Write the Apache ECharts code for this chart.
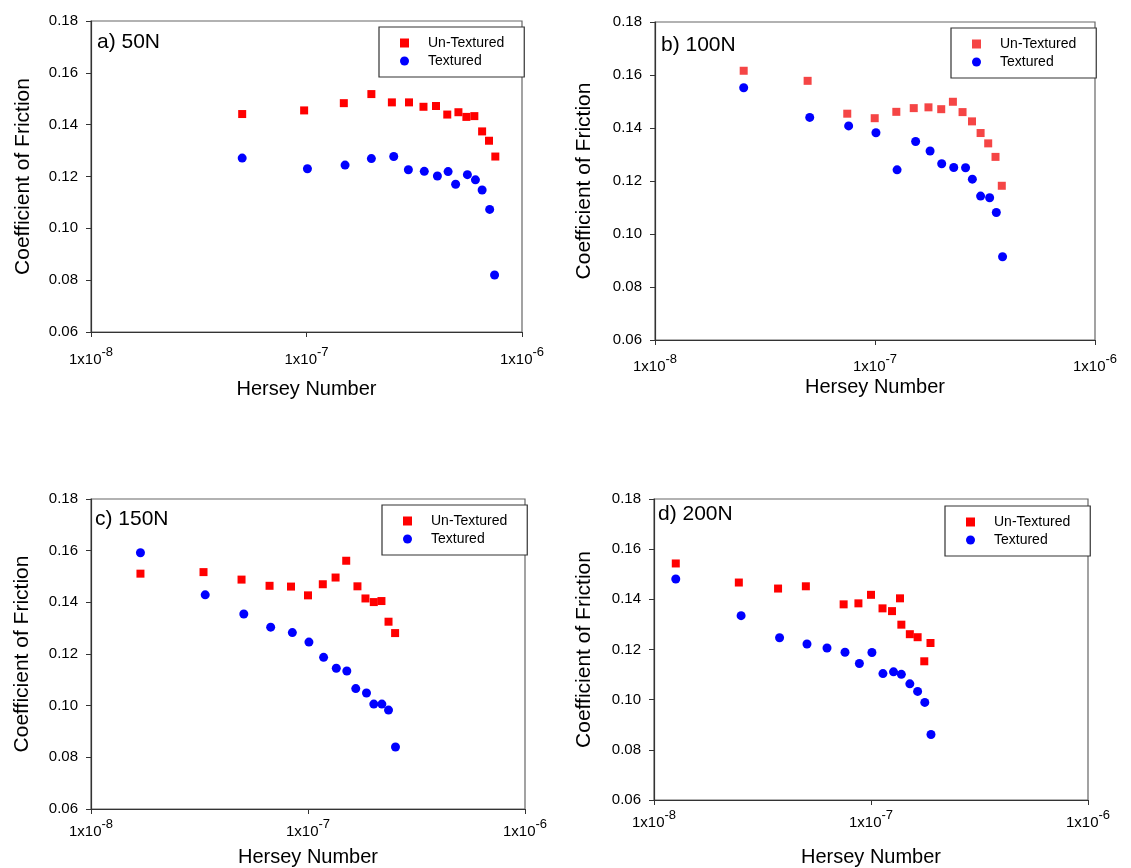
<!DOCTYPE html>
<html>
<head>
<meta charset="utf-8">
<script src="https://cdn.jsdelivr.net/npm/echarts@6/dist/echarts.min.js"></script>
<style>
html,body{margin:0;padding:0;background:#fff;}
#c{width:1131px;height:868px;}
</style>
</head>
<body>
<div id="c"></div>
<script>
// ---- data ----
const panelLabels = ['a) 50N', 'b) 100N', 'c) 150N', 'd) 200N'];
const seriesNames = ['Un-Textured', 'Textured'];
const yTicks = [0.06, 0.08, 0.10, 0.12, 0.14, 0.16, 0.18];
const xTickExps = [-8, -7, -6];

const h50U = [5.03e-8, 9.75e-8, 1.49e-7, 2.0e-7, 2.49e-7, 2.99e-7, 3.49e-7, 3.99e-7, 4.5e-7, 5.07e-7, 5.52e-7, 6.01e-7, 6.53e-7, 7.03e-7, 7.52e-7];
const f50U = [0.1441, 0.1455, 0.1483, 0.1518, 0.1486, 0.1486, 0.1469, 0.1472, 0.1439, 0.1448, 0.1430, 0.1433, 0.1374, 0.1338, 0.1277];
const h50T = [5.03e-8, 1.01e-7, 1.51e-7, 2.0e-7, 2.54e-7, 2.97e-7, 3.52e-7, 4.05e-7, 4.54e-7, 4.92e-7, 5.58e-7, 6.08e-7, 6.53e-7, 7.08e-7, 7.46e-7];
const f50T = [0.1271, 0.1230, 0.1244, 0.1269, 0.1277, 0.1226, 0.1220, 0.1202, 0.1219, 0.1170, 0.1207, 0.1187, 0.1148, 0.1073, 0.0820];

const h100U = [2.53e-8, 4.94e-8, 7.48e-8, 9.97e-8, 1.25e-7, 1.50e-7, 1.75e-7, 2.00e-7, 2.26e-7, 2.50e-7, 2.76e-7, 3.02e-7, 3.27e-7, 3.53e-7, 3.77e-7];
const f100U = [0.1616, 0.1578, 0.1454, 0.1437, 0.1461, 0.1475, 0.1478, 0.1471, 0.1499, 0.1460, 0.1425, 0.1381, 0.1342, 0.1291, 0.1182];
const h100T = [2.53e-8, 5.05e-8, 7.59e-8, 1.01e-7, 1.26e-7, 1.53e-7, 1.78e-7, 2.01e-7, 2.28e-7, 2.58e-7, 2.77e-7, 3.02e-7, 3.32e-7, 3.56e-7, 3.80e-7];
const f100T = [0.1552, 0.1440, 0.1408, 0.1382, 0.1242, 0.1349, 0.1313, 0.1265, 0.1251, 0.1250, 0.1207, 0.1143, 0.1137, 0.1081, 0.0914];

const h150U = [1.69e-8, 3.30e-8, 4.94e-8, 6.65e-8, 8.35e-8, 1.0e-7, 1.17e-7, 1.34e-7, 1.50e-7, 1.69e-7, 1.84e-7, 2.01e-7, 2.18e-7, 2.35e-7, 2.52e-7];
const f150U = [0.1511, 0.1517, 0.1488, 0.1464, 0.1461, 0.1427, 0.1470, 0.1496, 0.1561, 0.1462, 0.1415, 0.1401, 0.1405, 0.1325, 0.1281];
const h150T = [1.69e-8, 3.36e-8, 5.06e-8, 6.73e-8, 8.47e-8, 1.01e-7, 1.18e-7, 1.35e-7, 1.51e-7, 1.66e-7, 1.86e-7, 2.01e-7, 2.19e-7, 2.35e-7, 2.53e-7];
const f150T = [0.1592, 0.1429, 0.1355, 0.1304, 0.1283, 0.1246, 0.1187, 0.1145, 0.1134, 0.1066, 0.1049, 0.1006, 0.1006, 0.0983, 0.0840];

const h200U = [1.26e-8, 2.46e-8, 3.73e-8, 5.01e-8, 7.48e-8, 8.75e-8, 1.0e-7, 1.13e-7, 1.25e-7, 1.36e-7, 1.38e-7, 1.51e-7, 1.64e-7, 1.76e-7, 1.88e-7];
const f200U = [0.1543, 0.1467, 0.1443, 0.1452, 0.1380, 0.1384, 0.1418, 0.1364, 0.1353, 0.1404, 0.1299, 0.1261, 0.1249, 0.1153, 0.1226];
const h200T = [1.26e-8, 2.52e-8, 3.79e-8, 5.07e-8, 6.27e-8, 7.59e-8, 8.84e-8, 1.01e-7, 1.135e-7, 1.27e-7, 1.38e-7, 1.51e-7, 1.64e-7, 1.77e-7, 1.89e-7];
const f200T = [0.1481, 0.1335, 0.1247, 0.1222, 0.1206, 0.1189, 0.1144, 0.1188, 0.1104, 0.1111, 0.1101, 0.1063, 0.1033, 0.0989, 0.0861];

// ---- layout / style ----
const FONT = '"Liberation Sans", Arial, sans-serif';
const panels = [
  {grid:{left:91, top:21, width:431, height:311}, hx:[h50U,h50T], fy:[f50U,f50T], red:'#ff0000', labMargin:14, nameGap:47, yNameGap:57, title:{left:97, top:32}, legend:{left:379, top:27}},
  {grid:{left:655, top:22, width:440, height:318}, hx:[h100U,h100T], fy:[f100U,f100T], red:'#f54545', labMargin:13, nameGap:37, yNameGap:60, title:{left:661, top:35}, legend:{left:951, top:28}},
  {grid:{left:91, top:499, width:434, height:313}, hx:[h150U,h150T], fy:[f150U,f150T], red:'#ff0000', labMargin:9, nameGap:38, yNameGap:58, title:{left:95, top:509}, legend:{left:382, top:505}},
  {grid:{left:654, top:499, width:434, height:312}, hx:[h200U,h200T], fy:[f200U,f200T], red:'#ff0000', labMargin:9, nameGap:47, yNameGap:59, title:{left:658, top:504}, legend:{left:945, top:506}}
];

const zip = (xs, ys) => xs.map((x, i) => [x, ys[i]]);

const option = {
  animation: false,
  backgroundColor: '#fff',
  textStyle: {fontFamily: FONT, color: '#000'},
  title: panels.map((p, i) => ({
    text: panelLabels[i], left: p.title.left, top: p.title.top, padding: 0,
    textStyle: {fontFamily: FONT, fontSize: 21, fontWeight: 'normal', color: '#000'}
  })),
  legend: panels.map((p, i) => ({
    orient: 'vertical', left: p.legend.left, top: p.legend.top,
    padding: [9, 20, 9, 21], itemGap: 4, itemWidth: 9, itemHeight: 9,
    borderColor: '#333', borderWidth: 1.2, backgroundColor: '#fff',
    selectedMode: false,
    textStyle: {fontFamily: FONT, fontSize: 14, color: '#000', padding: [0, 0, 0, 14]},
    data: [
      {name: seriesNames[0], icon: 'rect', itemStyle: {color: p.red, opacity: 1}},
      {name: seriesNames[1], icon: 'circle', itemStyle: {color: '#0000ff', opacity: 1}}
    ]
  })),
  grid: panels.map(p => Object.assign({show: true, borderColor: '#666', borderWidth: 1.2, backgroundColor: 'transparent'}, p.grid)),
  xAxis: panels.map((p, i) => ({
    type: 'log', logBase: 10, gridIndex: i, min: 1e-8, max: 1e-6, interval: 1,
    name: 'Hersey Number', nameLocation: 'middle', nameGap: p.nameGap,
    nameTextStyle: {fontFamily: FONT, fontSize: 20, color: '#000'},
    axisLine: {show: true, lineStyle: {color: '#333', width: 1.2}},
    axisTick: {show: true, inside: false, length: 5, lineStyle: {color: '#333'}},
    minorTick: {show: false}, splitLine: {show: false},
    axisLabel: {
      margin: p.labMargin, color: '#000', fontFamily: FONT,
      formatter: v => '{a|1x10}{b|' + Math.round(Math.log10(v)) + '}',
      rich: {
        a: {fontFamily: FONT, fontSize: 15, color: '#000', verticalAlign: 'bottom'},
        b: {fontFamily: FONT, fontSize: 13, color: '#000', padding: [0, 0, 8, 0], verticalAlign: 'bottom'}
      }
    }
  })),
  yAxis: panels.map((p, i) => ({
    type: 'value', gridIndex: i, min: yTicks[0], max: yTicks[yTicks.length - 1], interval: 0.02,
    name: 'Coefficient of Friction', nameLocation: 'middle', nameGap: p.yNameGap, nameRotate: 90,
    nameTextStyle: {fontFamily: FONT, fontSize: 21, color: '#000'},
    axisLine: {show: true, lineStyle: {color: '#333', width: 1.2}},
    axisTick: {show: true, inside: false, length: 5, lineStyle: {color: '#333'}},
    splitLine: {show: false},
    axisLabel: {margin: 13, fontSize: 15, color: '#000', fontFamily: FONT, formatter: v => v.toFixed(2)}
  })),
  series: []
};

panels.forEach((p, i) => {
  option.series.push({
    name: seriesNames[0], type: 'scatter', xAxisIndex: i, yAxisIndex: i,
    symbol: 'rect', symbolSize: 8, itemStyle: {color: p.red, opacity: 1},
    data: zip(p.hx[0], p.fy[0])
  });
  option.series.push({
    name: seriesNames[1], type: 'scatter', xAxisIndex: i, yAxisIndex: i,
    symbol: 'circle', symbolSize: 9, itemStyle: {color: '#0000ff', opacity: 1},
    data: zip(p.hx[1], p.fy[1])
  });
});

const chart = echarts.init(document.getElementById('c'), null, {renderer: 'canvas'});
chart.setOption(option);
</script>
</body>
</html>
